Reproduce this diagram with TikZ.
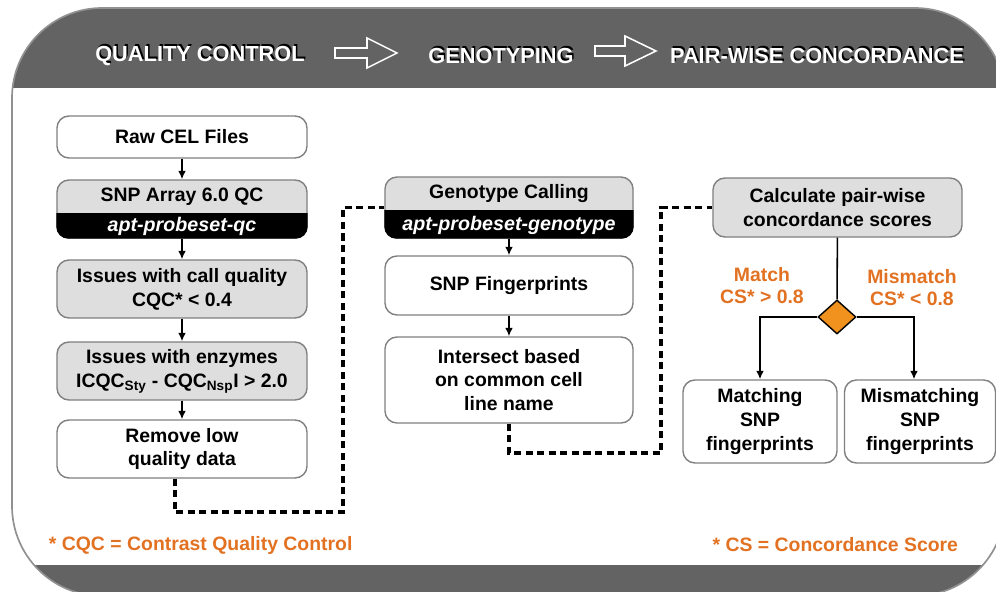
\documentclass[tikz,border=0pt]{standalone}
\usepackage{fontspec}
\setmainfont{Liberation Sans}
\usetikzlibrary{shapes.geometric,arrows.meta}

\definecolor{bandgray}{RGB}{99,99,99}
\definecolor{boxgray}{RGB}{222,222,222}
\definecolor{edgegray}{RGB}{128,128,128}
\definecolor{framegray}{RGB}{145,145,145}
\definecolor{noteorange}{RGB}{226,114,34}
\definecolor{diaorange}{RGB}{242,146,30}

% white heading with a black shadow behind it
\newcommand\shadowtext[1]{\rlap{\kern1pt\raisebox{1.8pt}{\color{black}#1}}#1}

\tikzset{
  box/.style={draw=edgegray, line width=1pt, rounded corners=0.3cm, fill=white, inner sep=0pt, align=center},
  greybox/.style={box, fill=boxgray},
  tool/.style={text=white, font=\bfseries\itshape\fontsize{14}{17}\selectfont},
  flow/.style={-{Latex[length=6pt,width=5.5pt]}, line width=1.1pt},
  link/.style={line width=1.1pt},
  dashlink/.style={line width=2.2pt, dash pattern=on 5pt off 3.2pt},
  hdr/.style={text=white, font=\bfseries\fontsize{15.5}{18}\selectfont},
  note/.style={text=noteorange, align=center, font=\bfseries\fontsize{13.8}{15.6}\selectfont},
}

\begin{document}
\begin{tikzpicture}[x=0.025cm, y=-0.025cm, every node/.style={font=\bfseries\fontsize{13.8}{17}\selectfont}]
\useasboundingbox (0,0) rectangle (996,592);
\clip (0,0) rectangle (996,592);

% frame with header and footer bands
\fill[white, rounded corners=2.25cm] (12,8) rectangle (1005,596);
\begin{scope}
\clip[rounded corners=2.25cm] (12,8) rectangle (1005,596);
\fill[bandgray] (0,0) rectangle (1010,88);
\fill[bandgray] (0,565) rectangle (1010,600);
\end{scope}
\draw[framegray, line width=1.2pt, rounded corners=2.25cm] (12,8) rectangle (1005,596);

% header
\node[hdr] (qctitle) at (200,55) {\shadowtext{QUALITY CONTROL}};
\node[hdr] (gttitle) at (501,55) {\shadowtext{GENOTYPING}};
\node[hdr] (pwtitle) at (817,55) {\shadowtext{PAIR-WISE CONCORDANCE}};
\draw[white, line width=1.1pt] (335,48) -- (367,48) -- (367,38) -- (397,53) -- (367,68) -- (367,58) -- (335,58) -- cycle;
\draw[white, line width=1.1pt] (595,46) -- (625,46) -- (625,36) -- (656,51) -- (625,66) -- (625,56) -- (595,56) -- cycle;

% quality control
\node[box, minimum width=6.25cm, minimum height=1.05cm] (raw) at (182,137) {Raw CEL Files};
\node[greybox, minimum width=6.25cm, minimum height=1.45cm] (snpqc) at (182,209) {};
\begin{scope}
\clip[rounded corners=0.3cm] (snpqc.south west) rectangle (snpqc.north east);
\fill[black] (snpqc.south west) rectangle (snpqc.east |- 0,213);
\end{scope}
\node (snpqctop) at (182,196.5) {SNP Array 6.0 QC};
\node[tool] (snpqctool) at (182,226) {apt-probeset-qc};
\node[greybox, minimum width=6.25cm, minimum height=1.45cm] (callq) at (182,289) {Issues with call quality\\CQC* < 0.4};
\node[greybox, minimum width=6.25cm, minimum height=1.45cm] (enz) at (182,371) {Issues with enzymes\\ICQC\textsubscript{Sty} - CQC\textsubscript{Nsp}I > 2.0};
\node[box, minimum width=6.25cm, minimum height=1.45cm] (remove) at (182,449) {Remove low\\quality data};

\draw[flow] (raw) -- (snpqc);
\draw[flow] (snpqc) -- (callq);
\draw[flow] (callq) -- (enz);
\draw[flow] (enz) -- (remove);

% genotyping
\node[greybox, minimum width=6.2cm, minimum height=1.525cm] (geno) at (509,207.5) {};
\begin{scope}
\clip[rounded corners=0.3cm] (geno.south west) rectangle (geno.north east);
\fill[black] (geno.south west) rectangle (geno.east |- 0,210);
\end{scope}
\node (genotop) at (509,194) {Genotype Calling};
\node[tool] (genotool) at (509,225) {apt-probeset-genotype};
\node[box, minimum width=6.2cm, minimum height=1.475cm] (fing) at (509,285.5) {SNP Fingerprints};
\node[box, minimum width=6.2cm, minimum height=2.15cm] (inter) at (509,380) {Intersect based\\on common cell\\line name};

\draw[flow] (geno) -- (fing);
\draw[flow] (fing) -- (inter);

% pair-wise concordance
\node[greybox, minimum width=6.225cm, minimum height=1.475cm] (calc) at (837.5,207.5) {Calculate pair-wise\\concordance scores};
\node[diamond, draw=black, line width=1pt, fill=diaorange, inner sep=0pt, minimum width=0.95cm, minimum height=0.85cm] (dia) at (837,317) {};
\node[box, minimum width=3.85cm, minimum height=2.075cm] (match) at (760,421.5) {Matching\\SNP\\fingerprints};
\node[box, minimum width=3.775cm, minimum height=2.075cm] (mism) at (920,421.5) {Mismatching\\SNP\\fingerprints};
\node[note] (matchlbl) at (762,286) {Match\\CS* > 0.8};
\node[note] (mismlbl) at (912,288) {Mismatch\\CS* < 0.8};

\draw[link] (calc) -- (dia);
\draw[flow] (dia.west) -| (match.north);
\draw[flow] (dia.east) -| ([xshift=-0.15cm]mism.north);

% hand-over between stages
\draw[dashlink] ([xshift=-0.175cm]remove.south) |- (343,512) |- (geno.west);
\draw[dashlink] (inter.south) |- (661,453) |- (calc.west);

% footnotes
\node[note, anchor=west] (cqcnote) at (44,545) {* CQC = Contrast Quality Control};
\node[note, anchor=east] (csnote) at (963,545) {* CS = Concordance Score};
\end{tikzpicture}
\end{document}
